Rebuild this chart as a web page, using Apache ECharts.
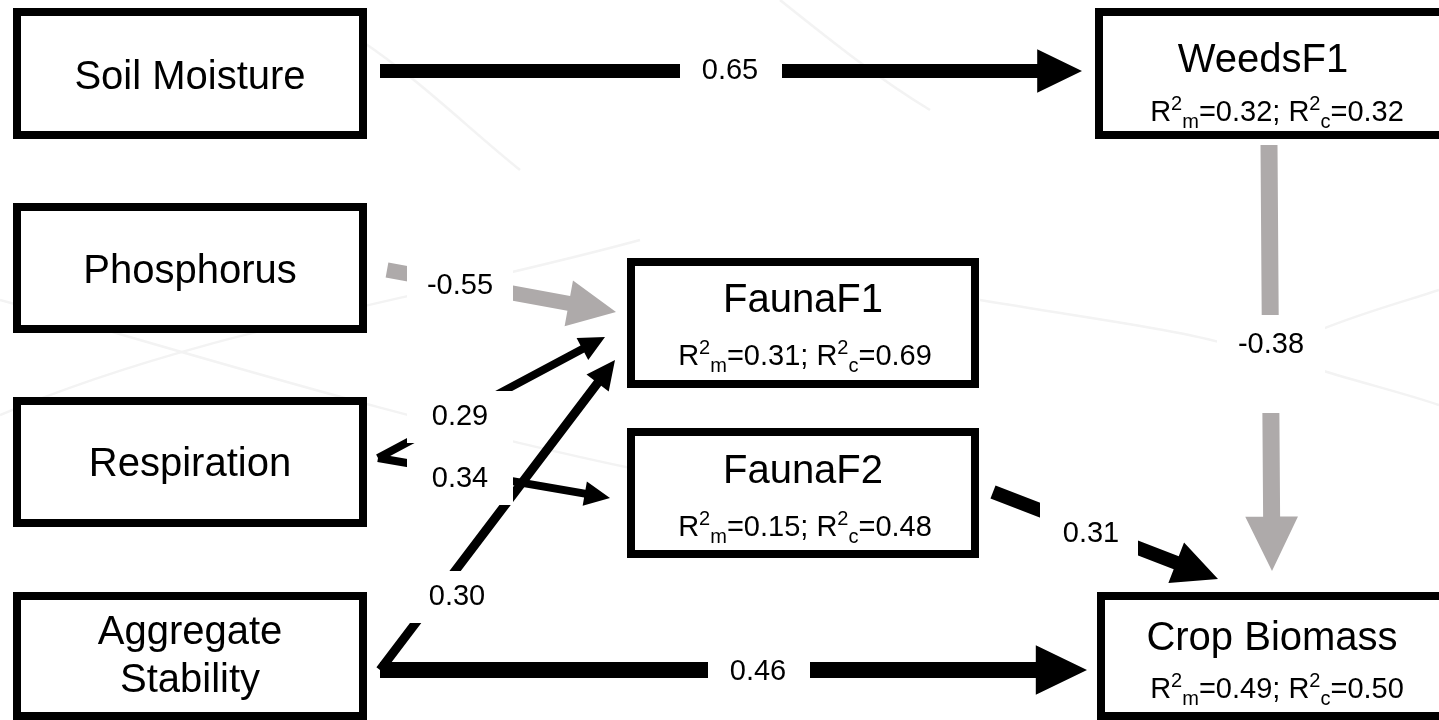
<!DOCTYPE html>
<html>
<head>
<meta charset="utf-8">
<title>Path diagram</title>
<script src="https://cdn.jsdelivr.net/npm/echarts@6/dist/echarts.min.js"></script>
<style>
html,body{margin:0;padding:0;background:#fff;}
#pathModel{width:1439px;height:720px;}
</style>
</head>
<body>
<div id="pathModel"></div>
<script>
// 变量与R2
var nodeNames = ['Soil Moisture', 'Phosphorus', 'Respiration', 'Aggregate\nStability', 'WeedsF1', 'FaunaF1', 'FaunaF2', 'Crop Biomass'];
var r2Marginal = [null, null, null, null, 0.32, 0.31, 0.15, 0.49];
var r2Conditional = [null, null, null, null, 0.32, 0.69, 0.48, 0.50];

// 路径系数
var pathFrom = [0, 1, 2, 2, 3, 3, 6, 4];
var pathTo = [4, 5, 5, 6, 5, 7, 7, 7];
var pathCoef = [0.65, -0.55, 0.29, 0.34, 0.30, 0.46, 0.31, -0.38];

// 布局 (画布坐标): 外框 x0,y0,x1,y1, 标题中心 x,y, R2 中心 x,y
var boxLayout = [
    [13, 8, 367, 139, 190, 78],
    [13, 203, 367, 333, 190, 272],
    [13, 397, 367, 527, 190, 465],
    [13, 592, 367, 720, 190, 657],
    [1095, 8, 1452, 139, 1263, 61, 1277, 113],
    [627, 258, 979, 388, 803, 301, 805, 357],
    [627, 428, 979, 558, 803, 472, 805, 528],
    [1097, 592, 1452, 720, 1272, 639, 1277, 690]
];
// 箭头: 起点, 终点, 线宽
var arrowLayout = [
    [380, 71, 1082, 71, 14],
    [387, 270, 616, 312, 15],
    [378, 458, 605, 337, 8],
    [378, 458, 610, 498, 8],
    [380, 670, 615, 360, 9],
    [380, 670, 1087, 670, 16],
    [993, 492, 1218, 579, 14],
    [1269, 145, 1272, 571, 17]
];
// 系数标签: 文字中心, 白底 x0,y0,x1,y1
var labelLayout = [
    [730, 71, 680, 40, 782, 100],
    [460, 286, 407, 260, 513, 312],
    [460, 417, 407, 391, 513, 443],
    [460, 479, 407, 453, 513, 505],
    [457, 597, 404, 571, 510, 623],
    [758, 672, 708, 640, 810, 700],
    [1091, 534, 1040, 498, 1138, 570],
    [1271, 345, 1217, 315, 1325, 413]
];

var FONT = '"Liberation Sans", Arial, sans-serif';
var GREY = '#aeaaaa';
var FAINT = '#f3f3f3';

function fmt(v) {
    return v.toFixed(2);
}

function renderArrow(params, api) {
    var e = arrowLayout[params.dataIndex];
    var a = api.coord([e[0], e[1]]);
    var b = api.coord([e[2], e[3]]);
    var w = e[4];
    var dx = b[0] - a[0], dy = b[1] - a[1];
    var len = Math.sqrt(dx * dx + dy * dy);
    var ux = dx / len, uy = dy / len, nx = -uy, ny = ux;
    var hl = w * 3.2, hw = w * 1.55;
    var bx = b[0] - ux * hl, by = b[1] - uy * hl;
    var pts = [
        [a[0] + nx * w / 2, a[1] + ny * w / 2],
        [bx + nx * w / 2, by + ny * w / 2],
        [bx + nx * hw, by + ny * hw],
        [b[0], b[1]],
        [bx - nx * hw, by - ny * hw],
        [bx - nx * w / 2, by - ny * w / 2],
        [a[0] - nx * w / 2, a[1] - ny * w / 2]
    ];
    return {
        type: 'polygon',
        shape: { points: pts },
        style: { fill: api.value(1) < 0 ? GREY : '#000' }
    };
}

function renderLabel(params, api) {
    var l = labelLayout[params.dataIndex];
    var p0 = api.coord([l[2], l[3]]);
    var p1 = api.coord([l[4], l[5]]);
    var t = api.coord([l[0], l[1]]);
    return {
        type: 'group',
        children: [{
            type: 'rect',
            shape: { x: p0[0], y: p0[1], width: p1[0] - p0[0], height: p1[1] - p0[1] },
            style: { fill: '#fff' }
        }, {
            type: 'text',
            style: {
                text: fmt(api.value(1)), x: t[0], y: t[1], fill: '#000',
                font: '29px ' + FONT, align: 'center', verticalAlign: 'middle'
            }
        }]
    };
}

function renderNode(params, api) {
    var i = params.dataIndex;
    var b = boxLayout[i];
    var p0 = api.coord([b[0], b[1]]);
    var p1 = api.coord([b[2], b[3]]);
    var t = api.coord([b[4], b[5]]);
    var children = [{
        type: 'rect',
        shape: { x: p0[0] + 4, y: p0[1] + 4, width: p1[0] - p0[0] - 8, height: p1[1] - p0[1] - 8 },
        style: { fill: '#fff', stroke: '#000', lineWidth: 8 }
    }, {
        type: 'text',
        style: {
            text: nodeNames[i], x: t[0], y: t[1], fill: '#000',
            font: '40px ' + FONT, align: 'center', verticalAlign: 'middle', lineHeight: 48
        }
    }];
    if (r2Marginal[i] != null) {
        var r = api.coord([b[6], b[7]]);
        children.push({
            type: 'text',
            style: {
                text: '{b|R}{sup|2}{sub|m}{b|=' + fmt(r2Marginal[i]) + '; R}{sup|2}{sub|c}{b|=' + fmt(r2Conditional[i]) + '}',
                x: r[0], y: r[1], align: 'center', verticalAlign: 'middle', fill: '#000',
                rich: {
                    b: { fontSize: 29, fontFamily: FONT, lineHeight: 38, fill: '#000', verticalAlign: 'middle' },
                    sup: { fontSize: 20, fontFamily: FONT, lineHeight: 20, fill: '#000', verticalAlign: 'top' },
                    sub: { fontSize: 20, fontFamily: FONT, lineHeight: 20, fill: '#000', verticalAlign: 'bottom' }
                }
            }
        });
    }
    return { type: 'group', children: children };
}

function faintCurve(x1, y1, c1x, c1y, c2x, c2y, x2, y2) {
    return {
        type: 'bezierCurve', z: -10, silent: true,
        shape: { x1: x1, y1: y1, cpx1: c1x, cpy1: c1y, cpx2: c2x, cpy2: c2y, x2: x2, y2: y2 },
        style: { stroke: FAINT, lineWidth: 2.5, fill: null }
    };
}

var myChart = echarts.init(document.getElementById('pathModel'));
var option = {
    backgroundColor: '#fff',
    animation: false,
    grid: { left: 0, right: 0, top: 0, bottom: 0 },
    xAxis: { type: 'value', min: 0, max: 1439, show: false },
    yAxis: { type: 'value', min: 0, max: 720, inverse: true, show: false },
    // 背景淡线
    graphic: [
        faintCurve(0, 415, 200, 330, 420, 300, 640, 240),
        faintCurve(0, 300, 180, 350, 400, 420, 640, 470),
        faintCurve(360, 40, 420, 80, 470, 130, 520, 170),
        faintCurve(980, 300, 1100, 320, 1180, 330, 1230, 345),
        faintCurve(1320, 330, 1370, 310, 1410, 300, 1439, 290),
        faintCurve(1320, 370, 1370, 385, 1410, 395, 1439, 405),
        faintCurve(780, 0, 830, 40, 880, 80, 930, 110)
    ],
    series: [
        {
            type: 'custom',
            name: 'paths',
            z: 1,
            renderItem: renderArrow,
            data: pathCoef.map(function (c, i) {
                return { name: nodeNames[pathFrom[i]] + ' → ' + nodeNames[pathTo[i]], value: [i, c] };
            })
        },
        {
            type: 'custom',
            name: 'coefficients',
            z: 2,
            renderItem: renderLabel,
            data: pathCoef.map(function (c, i) { return [i, c]; })
        },
        {
            type: 'custom',
            name: 'variables',
            z: 3,
            renderItem: renderNode,
            data: nodeNames.map(function (n, i) { return { name: n, value: [i, 0] }; })
        }
    ]
};
myChart.setOption(option);
</script>
</body>
</html>
